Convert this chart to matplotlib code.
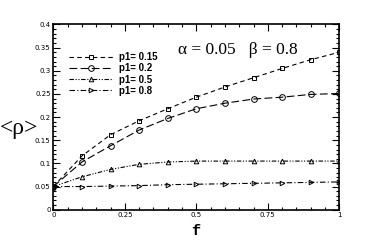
import matplotlib
matplotlib.use("Agg")
import matplotlib.pyplot as plt
from matplotlib.ticker import MultipleLocator, FixedLocator

f_vals = [0.0, 0.1, 0.2, 0.3, 0.4, 0.5, 0.6, 0.7, 0.8, 0.9, 1.0]
rho_p015 = [0.05, 0.116, 0.162, 0.192, 0.218, 0.243, 0.265, 0.285, 0.305, 0.324, 0.340]
rho_p02 = [0.05, 0.103, 0.138, 0.172, 0.197, 0.218, 0.230, 0.239, 0.243, 0.249, 0.251]
rho_p05 = [0.05, 0.071, 0.087, 0.098, 0.103, 0.105, 0.105, 0.105, 0.105, 0.105, 0.105]
rho_p08 = [0.05, 0.050, 0.051, 0.052, 0.054, 0.055, 0.056, 0.057, 0.058, 0.059, 0.060]
labels = ["p1= 0.15", "p1= 0.2", "p1= 0.5", "p1= 0.8"]
x_ticks = [0, 0.25, 0.5, 0.75, 1]
x_tick_labels = ["0", "0.25", "0.5", "0.75", "1"]
y_ticks = [0, 0.05, 0.1, 0.15, 0.2, 0.25, 0.3, 0.35, 0.4]
y_tick_labels = ["0", "0.05", "0.1", "0.15", "0.2", "0.25", "0.3", "0.35", "0.4"]

fig = plt.figure(figsize=(3.82, 2.43), dpi=100)
ax = fig.add_axes([53.3 / 382, (243 - 209.7) / 243, (339.3 - 53.3) / 382, (209.7 - 24.5) / 243])

lw = 0.8
ms = 3.3
ax.plot(f_vals, rho_p015, linestyle=(0, (4, 3)), color="black", lw=lw, marker="s",
        ms=ms, mfc="none", mew=0.7, label=labels[0])
ax.plot(f_vals, rho_p02, linestyle=(0, (7, 3)), color="black", lw=lw, marker="o",
        ms=ms + 0.8, mfc="none", mew=0.7, label=labels[1])
ax.plot(f_vals, rho_p05, linestyle=(0, (4, 1.5, 1, 1.5, 1, 1.5)), color="black", lw=lw, marker="^",
        ms=ms, mfc="none", mew=0.7, label=labels[2])
ax.plot(f_vals, rho_p08, linestyle=(0, (5, 2, 1, 2)), color="black", lw=lw, marker=">",
        ms=ms, mfc="none", mew=0.7, label=labels[3])

ax.set_xlim(0, 1)
ax.set_ylim(0, 0.4)
ax.xaxis.set_major_locator(FixedLocator(x_ticks))
ax.set_xticklabels(x_tick_labels)
ax.yaxis.set_major_locator(FixedLocator(y_ticks))
ax.set_yticklabels(y_tick_labels)
ax.xaxis.set_minor_locator(MultipleLocator(0.05))
ax.yaxis.set_minor_locator(MultipleLocator(0.01))
ax.tick_params(which="both", direction="in", top=True, right=True, labelsize=5, pad=2, width=0.8)
ax.tick_params(which="major", length=5)
ax.tick_params(which="minor", length=2.5)
for s in ax.spines.values():
    s.set_linewidth(1.2)

leg = ax.legend(loc="upper left", bbox_to_anchor=(0.055, 0.85), frameon=False, borderpad=0,
                borderaxespad=0, handlelength=4.5, handletextpad=0.6, labelspacing=0.12,
                prop={"size": 7, "weight": "bold", "family": "Liberation Sans"})

ax.text(0.435, 0.344, "α = 0.05   β = 0.8", fontsize=12.5, va="center", ha="left",
        family="Liberation Serif")

fig.text(19 / 382, 1 - 128 / 243, "<ρ>", fontsize=17, ha="center", va="center",
         family="Liberation Serif")
fig.text(196 / 382, 1 - 231 / 243, "f", fontsize=11, fontweight="bold", family="Liberation Mono",
         ha="center", va="center")

fig.savefig("out.png", dpi=100)
